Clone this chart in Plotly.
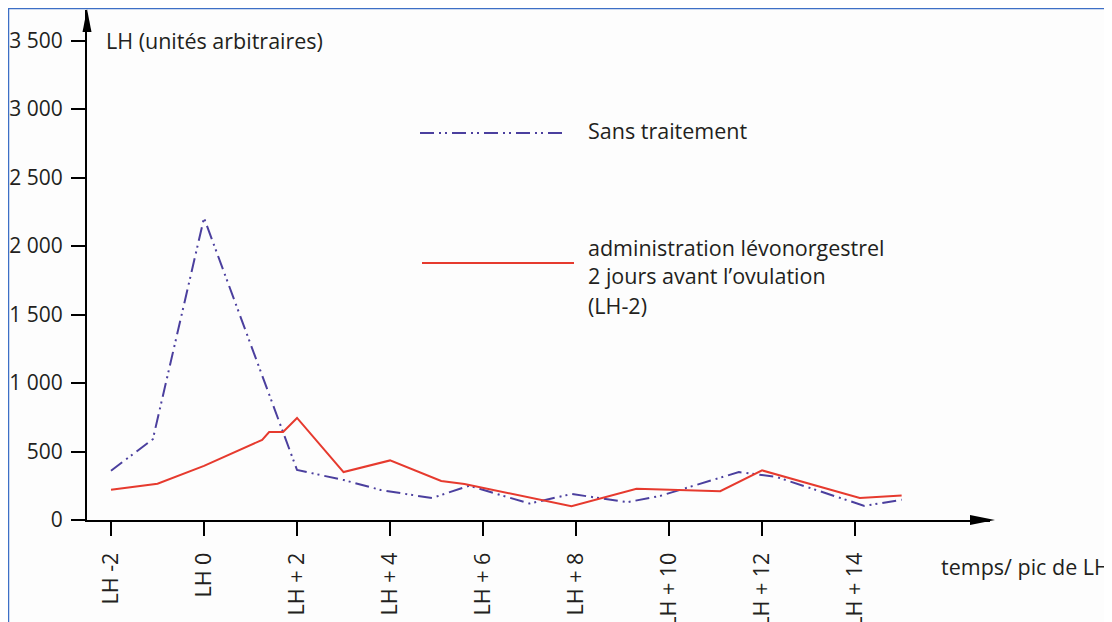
import plotly.graph_objects as go

# ---- data ----
days_sans = [-2, -1.1, 0, 2, 3, 3.8, 4.9, 5.7, 7.0, 7.9, 9.1, 9.8, 11.5, 12.3, 14.2, 15]
lh_sans = [360, 590, 2205, 365, 292, 219, 160, 250, 120, 190, 130, 175, 350, 315, 103, 148]

days_levo = [-2, -1, 0, 1.25, 1.4, 1.7, 2, 3, 4, 5.1, 5.6, 7.9, 9.3, 10, 11.1, 12, 14.1, 15]
lh_levo = [220, 265, 395, 585, 642, 642, 745, 350, 435, 285, 263, 100, 228, 220, 210, 362, 160, 178]

x_tickvals = [-2, 0, 2, 4, 6, 8, 10, 12, 14]
x_ticklabels = ["LH -2", "LH 0", "LH + 2", "LH + 4", "LH + 6", "LH + 8", "LH + 10", "LH + 12", "LH + 14"]
y_tickvals = [0, 500, 1000, 1500, 2000, 2500, 3000, 3500]
y_ticklabels = ["0", "500", "1 000", "1 500", "2 000", "2 500", "3 000", "3 500"]

name_sans = "Sans traitement"
name_levo = ["administration lévonorgestrel", "2 jours avant l\u2019ovulation", "(LH-2)"]

BLUE = "#4B3F9E"
RED = "#E63A2E"
TXT = "#231F20"
FONT = "Open Sans"
FS = 21.5
DASH = "14px,5px,2px,4px,2px,5px"

# page offset (body margin) of the html page
OFF = 8
W, H = 1112 - OFF, 622 - OFF
L, T = 87 - OFF, 10 - OFF
PW, PH = 903, 510
R = W - L - PW
B = H - T - PH


def px(xp):
    """page pixel x -> paper"""
    return (xp - OFF - L) / PW


def py(yp):
    """page pixel y -> paper"""
    return (T + PH - (yp - OFF)) / PH


fig = go.Figure()
fig.add_trace(go.Scatter(x=days_sans, y=lh_sans, mode="lines", name=name_sans,
                         line=dict(color=BLUE, width=2, dash=DASH)))
fig.add_trace(go.Scatter(x=days_levo, y=lh_levo, mode="lines", name=name_levo[0],
                         line=dict(color=RED, width=2)))

shapes = []
# arrowheads of axes
shapes.append(dict(type="path", xref="paper", yref="paper",
                   path=f"M {px(87)},{py(9)} L {px(82.5)},{py(32)} L {px(91.5)},{py(32)} Z",
                   fillcolor="black", line=dict(width=0)))
shapes.append(dict(type="path", xref="paper", yref="paper",
                   path=f"M {px(995)},{py(520)} L {px(970)},{py(515)} L {px(970)},{py(525)} Z",
                   fillcolor="black", line=dict(width=0)))
# legend samples
shapes.append(dict(type="line", xref="paper", yref="paper", x0=px(420), x1=px(567), y0=py(133), y1=py(133),
                   line=dict(color=BLUE, width=2, dash=DASH)))
shapes.append(dict(type="line", xref="paper", yref="paper", x0=px(422), x1=px(574), y0=py(263), y1=py(263),
                   line=dict(color=RED, width=2)))
# blue frame
shapes.append(dict(type="path", xref="paper", yref="paper", layer="below",
                   path=f"M {px(8.5)},{py(640)} L {px(8.5)},{py(8.5)} L {px(1110)},{py(8.5)} L {px(1110)},{py(640)}",
                   line=dict(color="#3D6FC6", width=1.5)))

annotations = []
annotations.append(dict(xref="paper", yref="paper", x=px(104), y=py(40), xanchor="left", yanchor="middle",
                        text="LH (unités arbitraires)", showarrow=False,
                        font=dict(family=FONT, size=FS, color=TXT)))
annotations.append(dict(xref="paper", yref="paper", x=px(939), y=py(566), xanchor="left", yanchor="middle",
                        text="temps/ pic de LH", showarrow=False,
                        font=dict(family=FONT, size=FS, color=TXT)))
annotations.append(dict(xref="paper", yref="paper", x=px(586), y=py(130), xanchor="left", yanchor="middle",
                        text=name_sans, showarrow=False,
                        font=dict(family=FONT, size=FS, color=TXT)))
for txt, yy in zip(name_levo, [247, 276, 306]):
    annotations.append(dict(xref="paper", yref="paper", x=px(586), y=py(yy), xanchor="left", yanchor="middle",
                            text=txt, showarrow=False,
                            font=dict(family=FONT, size=FS, color=TXT)))

fig.update_layout(
    width=W, height=H,
    margin=dict(l=L, r=R, t=T, b=B),
    paper_bgcolor="#FDFDFD", plot_bgcolor="#FDFDFD",
    showlegend=False,
    shapes=shapes, annotations=annotations,
    font=dict(family=FONT, size=FS, color=TXT),
    xaxis=dict(range=[-2.516, 16.9], tickvals=x_tickvals, ticktext=x_ticklabels, tickangle=-90,
               showgrid=False, zeroline=False, showline=True, linecolor="black", linewidth=2,
               ticks="outside", ticklen=14, tickwidth=2, tickcolor="black", ticklabelstandoff=8,
               automargin=False, tickfont=dict(family=FONT, size=FS, color=TXT)),
    yaxis=dict(range=[0, 3723], tickvals=y_tickvals, ticktext=y_ticklabels,
               showgrid=False, zeroline=False, showline=True, linecolor="black", linewidth=2,
               ticks="outside", ticklen=14, tickwidth=2, tickcolor="black", ticklabelstandoff=4,
               automargin=False, tickfont=dict(family=FONT, size=21, color=TXT)),
)

fig.write_html("out.html")
